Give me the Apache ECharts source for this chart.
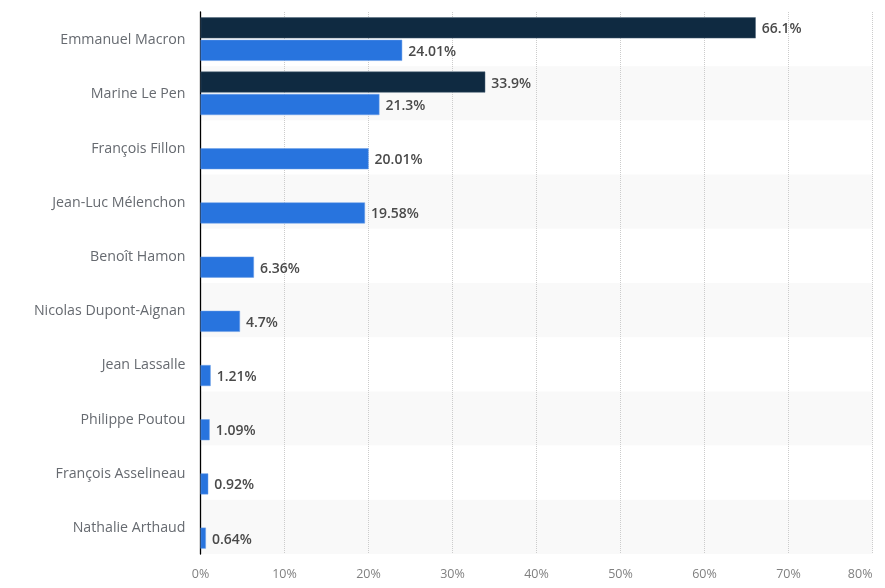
<html>
<head>
<meta charset="utf-8">
<script src="https://cdn.jsdelivr.net/npm/echarts@6/dist/echarts.min.js"></script>
<style>
html, body { margin: 0; padding: 0; background: #fff; }
#main { width: 885px; height: 588px; }
</style>
</head>
<body>
<div id="main"></div>
<script>
var candidates = ['Emmanuel Macron', 'Marine Le Pen', 'François Fillon', 'Jean-Luc Mélenchon', 'Benoît Hamon',
    'Nicolas Dupont-Aignan', 'Jean Lassalle', 'Philippe Poutou', 'François Asselineau', 'Nathalie Arthaud'];
var secondRound = [66.1, 33.9, null, null, null, null, null, null, null, null];
var firstRound = [24.01, 21.3, 20.01, 19.58, 6.36, 4.7, 1.21, 1.09, 0.92, 0.64];

var chart = echarts.init(document.getElementById('main'), null, {renderer: 'canvas'});

function barSeries(name, data, color, edge) {
    return {
        name: name,
        type: 'bar',
        data: data,
        barWidth: 21,
        barGap: '7%',
        itemStyle: {color: color, borderColor: edge, borderWidth: 0.5},
        label: {
            show: true,
            position: 'right',
            distance: 6,
            offset: [0, 1.5],
            formatter: '{c}%',
            fontFamily: 'Open Sans',
            fontSize: 14,
            fontWeight: 600,
            color: '#4a4a4a'
        }
    };
}

chart.setOption({
    animation: false,
    grid: {left: 200.5, top: 12, width: 672, height: 542},
    xAxis: {
        type: 'value',
        min: 0,
        max: 80,
        interval: 10,
        axisLine: {show: false},
        axisTick: {show: false},
        axisLabel: {
            formatter: '{value}%',
            alignMaxLabel: 'right',
            margin: 14,
            fontFamily: 'Open Sans',
            fontSize: 12.5,
            color: '#808080'
        },
        splitLine: {lineStyle: {type: 'dotted', color: '#ccc', width: 1}}
    },
    yAxis: {
        type: 'category',
        data: candidates,
        inverse: true,
        axisLine: {onZero: false, lineStyle: {color: '#000', width: 1.3}},
        axisTick: {show: false},
        axisLabel: {
            interval: 0,
            margin: 15,
            // padding only moves plain text when it is top or bottom aligned
            verticalAlign: 'top',
            padding: [-6, 0, 0, 0],
            fontFamily: 'Open Sans',
            fontSize: 14.2,
            color: '#666a70'
        },
        splitArea: {show: true, areaStyle: {color: ['#fff', '#f9f9f9']}}
    },
    series: [
        barSeries('Second round', secondRound, '#0f2a41', '#4d6478'),
        barSeries('First round', firstRound, '#2874de', '#6a9fe8')
    ]
});
</script>
</body>
</html>
